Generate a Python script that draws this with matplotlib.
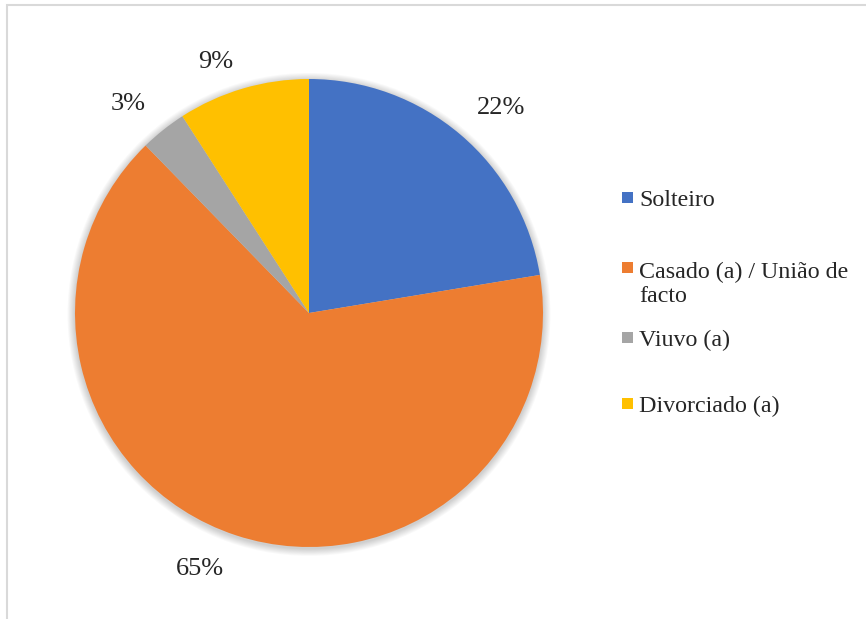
import numpy as np
import matplotlib.pyplot as plt
from matplotlib.patches import Rectangle, Circle

labels = ['Solteiro', 'Casado (a) / União de\nfacto', 'Viuvo (a)', 'Divorciado (a)']
values = [22.4, 65.3, 3.2, 9.1]
colors = ['#4472C4', '#ED7D31', '#A5A5A5', '#FFC000']

plt.rcParams['font.family'] = ['Liberation Serif', 'DejaVu Serif']

W, H = 866, 619
fig = plt.figure(figsize=(W / 100, H / 100), dpi=100)

# chart border (light gray), runs off the right and bottom edges
fig.patches.append(Rectangle((7 / W, -0.05), 1.1, 1 - 5 / H + 0.05, transform=fig.transFigure,
                             fill=False, edgecolor='#D9D9D9', linewidth=1.5))

cx, cy, r = 309, 313, 234
pad = 1.08
ax = fig.add_axes([(cx - r * pad) / W, (H - cy - r * pad) / H, 2 * r * pad / W, 2 * r * pad / H])

# soft shadow around the pie
for k in range(8):
    ax.add_patch(Circle((0.0, -0.006), 1.0 + 0.004 * (k + 1), color='black',
                        alpha=0.022, linewidth=0, zorder=0))

wedges, texts, autotexts = ax.pie(values, colors=colors, startangle=90, counterclock=False,
                                  radius=1.0, autopct='%1.0f%%', pctdistance=1.18,
                                  textprops={'fontsize': 19, 'color': '#262626'},
                                  wedgeprops={'linewidth': 0, 'zorder': 2})

# nudge labels a little, the way the original placed them
nudge_deg = [-2.7, -4.9, 2.4, 3.9]
dist = [1.20, 1.19, 1.18, 1.145]
for w, t, dth, d in zip(wedges, autotexts, nudge_deg, dist):
    ang = np.deg2rad((w.theta1 + w.theta2) / 2 + dth)
    t.set_position((d * np.cos(ang), d * np.sin(ang)))

ax.set_xlim(-pad, pad)
ax.set_ylim(-pad, pad)
ax.set_aspect('equal')
ax.axis('off')

# legend drawn by hand (marker aligned with first text line)
first_base = [206, 276, 346, 412]
for lab, col, yb in zip(labels, colors, first_base):
    fig.patches.append(Rectangle((622 / W, 1 - (yb - 3) / H), 11 / W, 11 / H,
                                 transform=fig.transFigure, facecolor=col, edgecolor='none'))
    n_extra = lab.count('\n')
    fig.text(639 / W, 1 - (yb + 26 * n_extra) / H, lab, fontsize=17.3, color='#262626',
             va='baseline', ha='left', linespacing=1.2, transform=fig.transFigure)

fig.savefig('out.png', dpi=100, facecolor='white')
